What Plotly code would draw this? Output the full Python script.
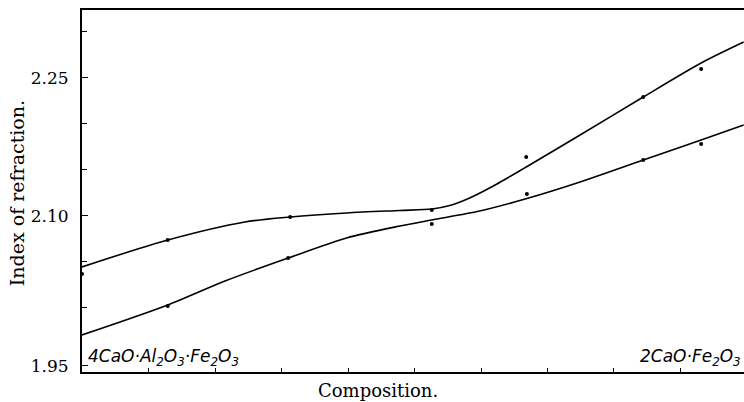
import plotly.graph_objects as go

# Composition axis (0 = 4CaO·Al2O3·Fe2O3, 100 = 2CaO·Fe2O3)
upper_curve_x = [0, 12.9, 24.5, 31.3, 39.8, 47.8, 52.6, 55.3, 58.3, 62.4, 66.8, 74.9, 84.4, 93.1, 99.5]
upper_curve_y = [2.0446, 2.0739, 2.0935, 2.0989, 2.1033, 2.1060, 2.1076, 2.1114, 2.1196,
                 2.1348, 2.1533, 2.1880, 2.2293, 2.2663, 2.2891]
lower_curve_x = [0, 12.9, 21.5, 31.0, 39.8, 47.8, 52.6, 59.8, 66.9, 74.9, 84.4, 93.1, 99.5]
lower_curve_y = [1.9707, 2.0033, 2.0293, 2.0543, 2.0761, 2.0891, 2.0957, 2.1054, 2.1190, 2.1370,
                 2.1609, 2.1826, 2.1989]

upper_pts_x = [0, 12.9, 31.3, 52.6, 66.8, 84.4, 93.1]
upper_pts_y = [2.0370, 2.0739, 2.0989, 2.1065, 2.1641, 2.2293, 2.2598]
lower_pts_x = [12.9, 31.0, 52.6, 66.9, 84.4, 93.1]
lower_pts_y = [2.0022, 2.0543, 2.0913, 2.1239, 2.1609, 2.1783]

Y_BOTTOM = 1.9304
Y_TOP = 2.3239
X_RIGHT = 99.55
ytick_vals = [1.937, 2.10, 2.25]
ytick_text = ["1.95", "2.10", "2.25"]
yminor_vals = [2.00, 2.05, 2.15, 2.20, 2.30]
xtick_vals = [10, 20, 30, 40, 50, 60, 70, 80, 90]

fig = go.Figure()
for cx, cy in [(upper_curve_x, upper_curve_y), (lower_curve_x, lower_curve_y)]:
    fig.add_trace(go.Scatter(x=cx, y=cy, mode="lines",
                             line=dict(color="black", width=1.6, shape="spline", smoothing=0.8),
                             hoverinfo="skip", showlegend=False))
for px, py in [(upper_pts_x, upper_pts_y), (lower_pts_x, lower_pts_y)]:
    fig.add_trace(go.Scatter(x=px, y=py, mode="markers",
                             marker=dict(color="black", size=4), showlegend=False))

serif = "DejaVu Serif"
fig.update_layout(
    width=744, height=402,
    margin=dict(l=82, r=0, t=10, b=30),
    paper_bgcolor="white", plot_bgcolor="white",
    xaxis=dict(range=[0, X_RIGHT], showgrid=False, zeroline=False,
               showline=True, linecolor="black", linewidth=2, mirror=True,
               tickmode="array", tickvals=xtick_vals, ticks="inside",
               ticklen=4, tickcolor="black", showticklabels=False),
    yaxis=dict(range=[Y_BOTTOM, Y_TOP], showgrid=False, zeroline=False,
               showline=True, linecolor="black", linewidth=2,
               tickmode="array", tickvals=ytick_vals, ticktext=ytick_text,
               ticks="inside", ticklen=6, tickcolor="black",
               tickfont=dict(family=serif, size=17, color="black"),
               ticklabelstandoff=8,
               minor=dict(tickmode="array", tickvals=yminor_vals, ticks="inside",
                          ticklen=5, tickcolor="black")),
)

fig.add_annotation(text="Composition.", xref="paper", yref="paper", x=0.447, y=0,
                   xanchor="center", yanchor="top", yshift=-6, showarrow=False,
                   font=dict(family=serif, size=18, color="black"))
fig.add_annotation(text="Index of refraction.", xref="paper", yref="paper", x=0, y=0.494,
                   xanchor="center", yanchor="middle", xshift=-65, textangle=-90,
                   showarrow=False, font=dict(family=serif, size=19, color="black"))
fig.add_annotation(text="<i>4CaO·Al<sub>2</sub>O<sub>3</sub>·Fe<sub>2</sub>O<sub>3</sub></i>",
                   xref="paper", yref="paper", x=0, y=0, xanchor="left", yanchor="bottom",
                   xshift=4, yshift=1, showarrow=False,
                   font=dict(family="DejaVu Sans", size=17, color="black"))
fig.add_annotation(text="<i>2CaO·Fe<sub>2</sub>O<sub>3</sub></i>",
                   xref="paper", yref="paper", x=1, y=0, xanchor="right", yanchor="bottom",
                   xshift=-1, yshift=1, showarrow=False,
                   font=dict(family="DejaVu Sans", size=17, color="black"))

fig.write_html("out.html", config={"displayModeBar": False},
               post_script="document.body.style.margin='0';document.body.style.padding='0';")
